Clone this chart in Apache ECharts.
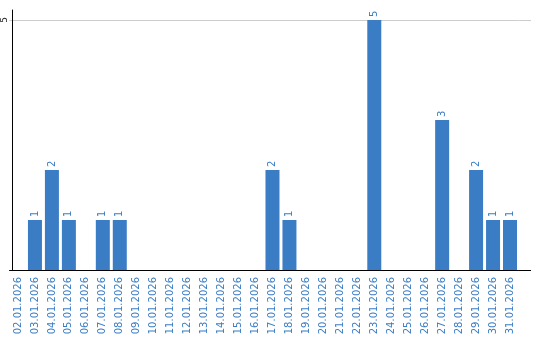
<!DOCTYPE html>
<html><head><meta charset="utf-8">
<script src="https://cdn.jsdelivr.net/npm/echarts@6/dist/echarts.min.js"></script>
<style>html,body{margin:0;padding:0;background:#fff}#c{width:540px;height:340px}</style>
</head><body><div id="c"></div>
<script>
var categories = ['02.01.2026','03.01.2026','04.01.2026','05.01.2026','06.01.2026','07.01.2026','08.01.2026','09.01.2026','10.01.2026','11.01.2026','12.01.2026','13.01.2026','14.01.2026','15.01.2026','16.01.2026','17.01.2026','18.01.2026','19.01.2026','20.01.2026','21.01.2026','22.01.2026','23.01.2026','24.01.2026','25.01.2026','26.01.2026','27.01.2026','28.01.2026','29.01.2026','30.01.2026','31.01.2026'];
var counts = [0,1,2,1,0,1,1,0,0,0,0,0,0,0,0,2,1,0,0,0,0,5,0,0,0,3,0,2,1,1];
var yTicks = [5];

var blue = '#3b7dc4';
var chart = echarts.init(document.getElementById('c'), null, {renderer:'canvas'});
chart.setOption({
  animation:false,
  grid:{left:8.5, top:10, width:510, height:260, containLabel:false},
  xAxis:{type:'category', data:categories,
    axisLine:{show:true, lineStyle:{color:'#000', width:1}},
    axisTick:{show:false},
    axisLabel:{interval:0, rotate:90, margin:7, color:blue, fontSize:10, fontFamily:'DejaVu Sans'}
  },
  yAxis:{type:'value', min:0, max:5.2, interval:5, offset:-2.5,
    axisLine:{show:true, lineStyle:{color:'#000', width:1}},
    axisTick:{show:false},
    splitLine:{show:true, showMinLine:false, showMaxLine:false, lineStyle:{color:'#cccccc', width:1}},
    axisLabel:{rotate:90, margin:3, color:'#222', fontSize:9, fontFamily:'DejaVu Sans',
      formatter:function(v){return yTicks.indexOf(v)>=0 ? String(v) : '';}}
  },
  series:[{type:'bar', data:counts, barWidth:14, itemStyle:{color:blue},
    label:{show:true, position:'top', rotate:90, align:'left', verticalAlign:'middle', distance:3,
      color:blue, fontSize:10, fontFamily:'DejaVu Sans',
      formatter:function(p){return p.value ? String(p.value) : '';}}
  }]
});
var x0 = chart.convertToPixel({gridIndex:0}, [categories.length-1, 0]);
var y0 = chart.convertToPixel({yAxisIndex:0}, 0);
var y5 = chart.convertToPixel({yAxisIndex:0}, 5);
var right = 8.5 + 510;
chart.setOption({graphic:[
  {type:'line', shape:{x1:right, y1:Math.round(y0)+0.5, x2:531, y2:Math.round(y0)+0.5}, style:{stroke:'#000', lineWidth:1}, silent:true},
  {type:'line', shape:{x1:right, y1:Math.round(y5)+0.5, x2:531, y2:Math.round(y5)+0.5}, style:{stroke:'#cccccc', lineWidth:1}, silent:true}
]});
</script></body></html>
